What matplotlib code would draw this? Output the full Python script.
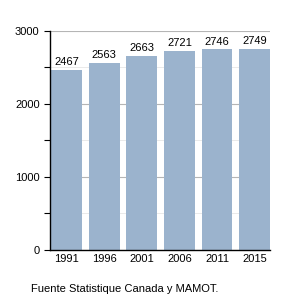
import matplotlib
matplotlib.use("Agg")
import matplotlib.pyplot as plt
from matplotlib.ticker import MultipleLocator

years = ["1991", "1996", "2001", "2006", "2011", "2015"]
population = [2467, 2563, 2663, 2721, 2746, 2749]
source = "Fuente Statistique Canada y MAMOT."

plt.rcParams["font.family"] = ["Liberation Sans", "DejaVu Sans"]

fig = plt.figure(figsize=(3, 3), dpi=100)
ax = fig.add_axes([0.167, 0.167, 0.733, 0.73])

x = range(len(years))
w = 0.82
bars = ax.bar(x, population, width=w, color="#9BB3CD", zorder=2)
for b, v in zip(bars, population):
    ax.text(b.get_x() + b.get_width() / 2, v + 40, str(v), ha="center",
            va="bottom", fontsize=8)

ax.set_xlim(-w / 2 - 0.03, len(years) - 1 + w / 2)
ax.set_ylim(0, 3000)
ax.yaxis.set_major_locator(MultipleLocator(1000))
ax.yaxis.set_minor_locator(MultipleLocator(500))
ax.grid(axis="y", which="major", color="#b5b5b5", lw=0.8, zorder=0)
ax.grid(axis="y", which="minor", color="#e6e6e6", lw=0.6, zorder=0)
ax.set_xticks(list(x))
ax.set_xticklabels(years)
ax.tick_params(axis="x", length=0, labelsize=8, pad=3)
ax.tick_params(axis="y", which="both", length=4, labelsize=8, width=0.8)
for s in ["top", "right"]:
    ax.spines[s].set_visible(False)
ax.spines["left"].set_linewidth(1)
ax.spines["bottom"].set_linewidth(1)

fig.text(0.103, 0.037, source, fontsize=8, ha="left", va="center")
fig.savefig("out.png", dpi=100)
